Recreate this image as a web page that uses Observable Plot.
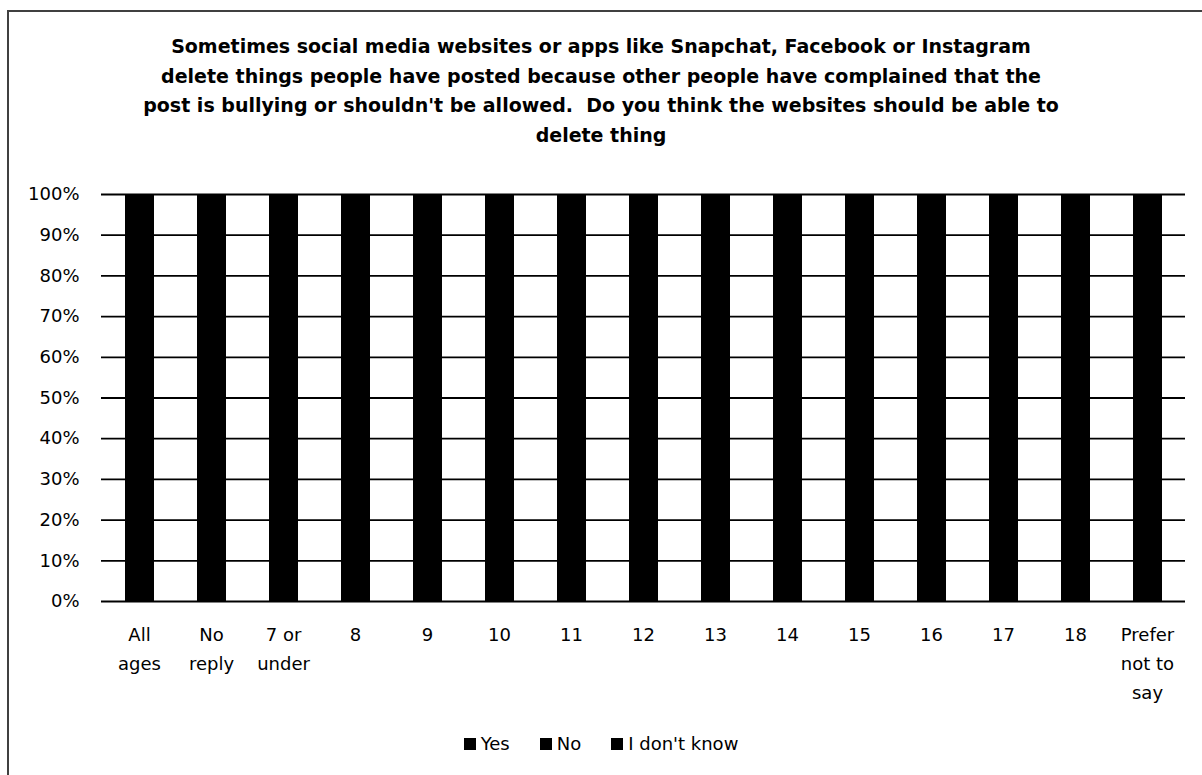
<!DOCTYPE html>
<html>
<head>
<meta charset="utf-8">
<script src="https://cdn.jsdelivr.net/npm/d3@7"></script>
<script src="https://cdn.jsdelivr.net/npm/@observablehq/plot@0.6"></script>
<style>
  html, body { margin: 0; padding: 0; background: #fff; width: 1202px; height: 775px; overflow: hidden; }
  body { position: relative; font-family: "DejaVu Sans", sans-serif; color: #000; }
  #frame { position: absolute; left: 7px; top: 10px; width: 1210px; height: 780px; border: 2px solid #404040; box-sizing: border-box; }
  #title { position: absolute; left: 0; top: 32px; width: 1202px; text-align: center; font-weight: bold; font-size: 19px; line-height: 29.5px; }
  #chart { position: absolute; left: 0; top: 0; }
  #legend { position: absolute; left: 0; top: 733px; width: 1202px; text-align: center; font-size: 18px; }
  #legend span.item { margin: 0 15px; }
  #legend span.sw { display: inline-block; width: 12px; height: 12px; background: #000; margin-right: 5px; vertical-align: 0px; }
</style>
</head>
<body>
<div id="frame"></div>
<div id="chart"></div>
<div id="title">Sometimes social media websites or apps like Snapchat, Facebook or Instagram<br>delete things people have posted because other people have complained that the<br>post is bullying or shouldn't be allowed.&nbsp; Do you think the websites should be able to<br>delete thing</div>
<div id="legend"></div>
<script>
// Categories (x axis)
const categories = ["All ages", "No reply", "7 or under", "8", "9", "10", "11", "12", "13", "14", "15", "16", "17", "18", "Prefer not to say"];
// Tick labels split as in the reference
const tickLabels = ["All\nages", "No\nreply", "7 or\nunder", "8", "9", "10", "11", "12", "13", "14", "15", "16", "17", "18", "Prefer\nnot to\nsay"];
// Series (percent of each group); all series are drawn black in the reference, so only the 100% total is visible
const seriesNames = ["Yes", "No", "I don't know"];
const yesValues = [52, 50, 45, 47, 49, 50, 51, 52, 53, 54, 55, 56, 57, 58, 50];
const noValues = [26, 25, 22, 23, 24, 25, 26, 27, 27, 27, 27, 26, 26, 25, 25];
const dontKnowValues = [22, 25, 33, 30, 27, 25, 23, 21, 20, 19, 18, 18, 17, 17, 25];
const yTicks = [0, 10, 20, 30, 40, 50, 60, 70, 80, 90, 100];
const seriesColors = ["#000000", "#000000", "#000000"];

const seriesValues = [yesValues, noValues, dontKnowValues];
const data = [];
seriesNames.forEach((s, si) => {
  categories.forEach((c, ci) => data.push({category: c, series: s, value: seriesValues[si][ci]}));
});
const labelOf = new Map(categories.map((c, i) => [c, tickLabels[i]]));

const chart = Plot.plot({
  width: 1202,
  height: 775,
  marginTop: 194,
  marginBottom: 174,
  marginLeft: 101,
  marginRight: 17,
  style: {fontFamily: "'DejaVu Sans', sans-serif", fontSize: "17px", color: "#000", background: "transparent"},
  x: {domain: categories, paddingInner: 0.61, paddingOuter: 0.305, label: null},
  y: {domain: [0, 100], label: null},
  color: {domain: seriesNames, range: seriesColors},
  marks: [
    Plot.ruleY(yTicks, {stroke: "#000", strokeWidth: 1.8}),
    Plot.barY(data, Plot.stackY({x: "category", y: "value", fill: "series", stroke: "series", strokeWidth: 1, shapeRendering: "crispEdges", order: seriesNames})),
    Plot.axisY(yTicks, {tickSize: 0, tickPadding: 22, tickFormat: d => d + "%", fontSize: 18, label: null}),
    Plot.axisX({tickSize: 0, tickPadding: 19, tickFormat: d => labelOf.get(d), fontSize: 18, lineHeight: 1.6, label: null})
  ]
});
document.getElementById("chart").appendChild(chart);

const legend = document.getElementById("legend");
seriesNames.forEach((s, i) => {
  const item = document.createElement("span");
  item.className = "item";
  const sw = document.createElement("span");
  sw.className = "sw";
  sw.style.background = seriesColors[i];
  item.appendChild(sw);
  item.appendChild(document.createTextNode(s));
  legend.appendChild(item);
});
</script>
</body>
</html>
